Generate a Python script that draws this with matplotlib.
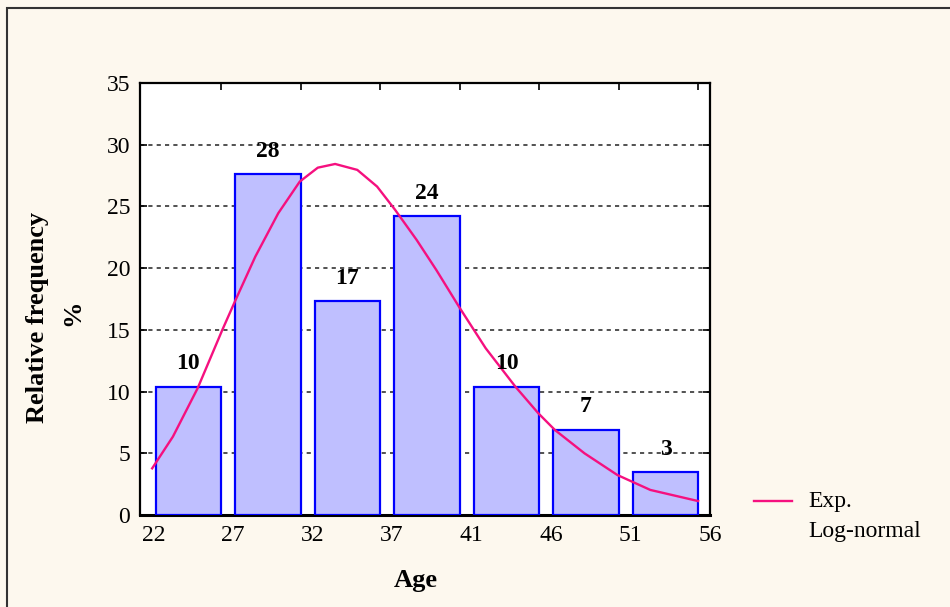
import matplotlib
matplotlib.use("Agg")
import matplotlib.pyplot as plt
from matplotlib.lines import Line2D
from matplotlib.patches import Rectangle
import numpy as np

# ---- data ----
edge_labels = ["22", "27", "32", "37", "41", "46", "51", "56"]
bar_values = [10.4, 27.6, 17.3, 24.2, 10.4, 6.9, 3.45]
bar_texts = ["10", "28", "17", "24", "10", "7", "3"]
# fitted log-normal curve (x in bin-slot units, y in %)
curve_x = [0.134, 0.395, 0.706, 1.016, 1.183, 1.431, 1.720, 1.990, 2.217,
           2.435, 2.714, 2.963, 3.190, 3.460, 3.708, 3.998, 4.329, 4.702,
           4.991, 5.199, 5.571, 5.985, 6.400, 7.000]
curve_y = [3.78, 6.35, 10.27, 14.99, 17.42, 20.93, 24.45, 27.01, 28.14,
           28.44, 27.96, 26.61, 24.72, 22.29, 19.85, 16.82, 13.51, 10.40,
           8.24, 6.89, 5.00, 3.24, 2.03, 1.13]
y_ticks = [0, 5, 10, 15, 20, 25, 30, 35]

W, H = 950, 607
bg = "#FDF8EE"
serif = ["Liberation Serif", "DejaVu Serif"]
plt.rcParams["font.family"] = serif

fig = plt.figure(figsize=(W / 100, H / 100), dpi=100, facecolor=bg)

# outer frame
fig.add_artist(Rectangle((7 / W, -0.1), 1.2, (H - 8) / H + 0.1,
                         transform=fig.transFigure, fill=False,
                         edgecolor="#333333", lw=1.5))

ax = fig.add_axes([140 / W, 1 - 515 / H, 570 / W, 432 / H])
ax.set_facecolor("white")

n = len(bar_values)
pos = np.arange(n)
ax.bar(pos + 0.18, bar_values, width=0.82, align="edge",
       color="#BFBFFF", edgecolor="#0000FF", linewidth=1.6, zorder=3)

for p, v, t in zip(pos, bar_values, bar_texts):
    ax.annotate(t, (p + 0.59, v), xytext=(0, 23), textcoords="offset pixels",
                ha="center", va="center", fontsize=17, fontweight="bold",
                zorder=5)

ax.plot(curve_x, curve_y, color="#F5107F", lw=1.7, zorder=4,
        solid_joinstyle="round")

ax.set_xlim(-0.019, 7.062)
ax.set_ylim(0, 35)
ax.set_yticks(y_ticks)
ax.set_yticklabels([str(v) for v in y_ticks], fontsize=17)

# grid (dotted)
for yv in y_ticks[1:-1]:
    ax.axhline(yv, color="#333333", lw=1.2, ls=(0, (2.5, 2.5)), zorder=1)

# x ticks: marks at bin boundaries, labels as minor ticks
ax.set_xticks(np.arange(1, n + 1))
ax.set_xticklabels([])
ax.set_xticks(np.arange(len(edge_labels)) + 0.15, minor=True)
ax.set_xticklabels(edge_labels, minor=True, fontsize=17)
ax.tick_params(axis="x", which="major", direction="in", length=5, width=1.2,
               top=True, bottom=True)
ax.tick_params(axis="x", which="minor", length=0, pad=7)
ax.tick_params(axis="y", direction="in", length=5, width=1.2, right=True,
               left=True, pad=7)

for s in ax.spines.values():
    s.set_linewidth(1.6)
    s.set_color("black")
ax.spines["bottom"].set_linewidth(2.2)

# axis titles
fig.text(416 / W, 1 - 580 / H, "Age", ha="center", va="center",
         fontsize=19, fontweight="bold")
fig.text(38 / W, 1 - 317 / H, "Relative frequency", ha="center", va="center",
         rotation=90, fontsize=19, fontweight="bold")
fig.text(73 / W, 1 - 313 / H, "%", ha="center", va="center",
         rotation=90, fontsize=19, fontweight="bold")

# legend
fig.add_artist(Line2D([754 / W, 792 / W], [1 - 500.7 / H, 1 - 500.7 / H],
                      transform=fig.transFigure, color="#F5107F", lw=1.7))
fig.text(808 / W, 1 - 502 / H, "Exp.", ha="left", va="center", fontsize=17)
fig.text(808 / W, 1 - 532 / H, "Log-normal", ha="left", va="center",
         fontsize=17)

fig.savefig("out.png", dpi=100, facecolor=bg)
